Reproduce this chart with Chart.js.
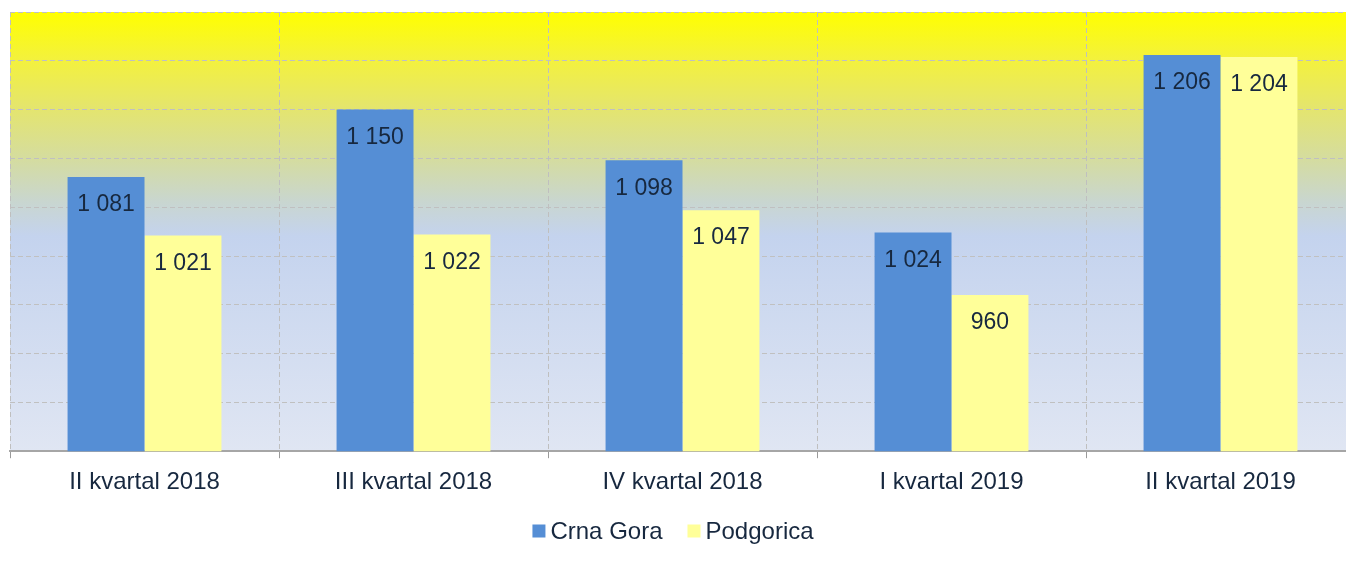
<!DOCTYPE html>
<html>
<head>
<meta charset="utf-8">
<script src="https://cdn.jsdelivr.net/npm/chart.js@4.4.1/dist/chart.umd.min.js"></script>
<style>
  html, body { margin: 0; padding: 0; background: #ffffff; overflow: hidden; }
  #wrap { width: 1360px; height: 570px; }
</style>
</head>
<body>
<div id="wrap"><canvas id="chart" width="1360" height="570"></canvas></div>
<script>
// chart data
const categories = ['II kvartal 2018', 'III kvartal 2018', 'IV kvartal 2018', 'I kvartal 2019', 'II kvartal 2019']
const crnaGora = [1081, 1150, 1098, 1024, 1206]
const podgorica = [1021, 1022, 1047, 960, 1204]

const textColor = '#17283f'
const fontFamily = '"Liberation Sans", Arial, sans-serif'

// 1 081 style numbers
function formatValue(v) {
  return String(v).replace(/\B(?=(\d{3})+(?!\d))/g, ' ')
}

// yellow -> blue background behind the plot
const plotBackground = {
  id: 'plotBackground',
  beforeDraw(chart) {
    const { ctx, chartArea } = chart
    if (!chartArea) return
    const g = ctx.createLinearGradient(0, chartArea.top, 0, chartArea.bottom)
    g.addColorStop(0, '#ffff00')
    g.addColorStop(0.11, '#f3f13e')
    g.addColorStop(0.22, '#e4e56e')
    g.addColorStop(0.34, '#d4dca2')
    g.addColorStop(0.43, '#c9d6cf')
    g.addColorStop(0.51, '#c4d3ee')
    g.addColorStop(1, '#e0e6f3')
    ctx.save()
    ctx.fillStyle = g
    ctx.fillRect(chartArea.left, chartArea.top, chartArea.right - chartArea.left, chartArea.bottom - chartArea.top)
    ctx.restore()
  }
}

// value labels just inside the top of each bar
const barLabels = {
  id: 'barLabels',
  afterDatasetsDraw(chart) {
    const { ctx } = chart
    ctx.save()
    ctx.font = '23px ' + fontFamily
    ctx.fillStyle = textColor
    ctx.textAlign = 'center'
    ctx.textBaseline = 'middle'
    chart.data.datasets.forEach((ds, i) => {
      const meta = chart.getDatasetMeta(i)
      meta.data.forEach((bar, j) => {
        ctx.fillText(formatValue(ds.data[j]), bar.x, bar.y + 28)
      })
    })
    ctx.restore()
  }
}

// legend drawn by hand so the box sits close to its text
const bottomLegend = {
  id: 'bottomLegend',
  afterDraw(chart) {
    const { ctx } = chart
    const box = 13
    const textGap = 5
    const itemGap = 25
    const y = 531
    ctx.save()
    ctx.font = '24px ' + fontFamily
    ctx.textBaseline = 'middle'
    const items = chart.data.datasets.map(ds => ({
      label: ds.label,
      color: ds.backgroundColor,
      w: ctx.measureText(ds.label).width
    }))
    let total = 0
    items.forEach((it, i) => { total += box + textGap + it.w + (i ? itemGap : 0) })
    let x = window.innerWidth / 2 - total / 2
    items.forEach(it => {
      ctx.fillStyle = it.color
      ctx.fillRect(x, y - box / 2, box, box)
      x += box + textGap
      ctx.fillStyle = textColor
      ctx.fillText(it.label, x, y + 1)
      x += it.w + itemGap
    })
    ctx.restore()
  }
}

const ctx = document.getElementById('chart').getContext('2d')
new Chart(ctx, {
  type: 'bar',
  data: {
    labels: categories,
    datasets: [
      {
        label: 'Crna Gora',
        data: crnaGora,
        backgroundColor: '#558ed5',
        borderWidth: 0
      },
      {
        label: 'Podgorica',
        data: podgorica,
        backgroundColor: '#ffff99',
        borderWidth: 0
      }
    ]
  },
  options: {
    responsive: false,
    animation: false,
    layout: {
      padding: { left: 10, right: 5, top: 12, bottom: 63 }
    },
    datasets: {
      bar: {
        categoryPercentage: 0.572,
        barPercentage: 1
      }
    },
    plugins: {
      legend: { display: false },
      tooltip: { enabled: false }
    },
    scales: {
      x: {
        grid: {
          offset: true,
          color: '#bfbfbf',
          lineWidth: 1,
          drawTicks: true,
          tickLength: 7,
          tickColor: '#9a9a9a',
          tickBorderDash: []
        },
        border: { display: true, color: '#a6a6a6', width: 2, dash: [5, 3] },
        ticks: {
          color: textColor,
          padding: 10,
          font: { size: 24, family: fontFamily }
        }
      },
      y: {
        min: 800,
        max: 1250,
        ticks: { display: false, stepSize: 50 },
        grid: {
          color: '#c0c0c0',
          drawTicks: false
        },
        border: { display: false, dash: [5, 3] },
        afterFit(scale) { scale.width = 0 }
      }
    }
  },
  plugins: [plotBackground, barLabels, bottomLegend]
})
</script>
</body>
</html>
